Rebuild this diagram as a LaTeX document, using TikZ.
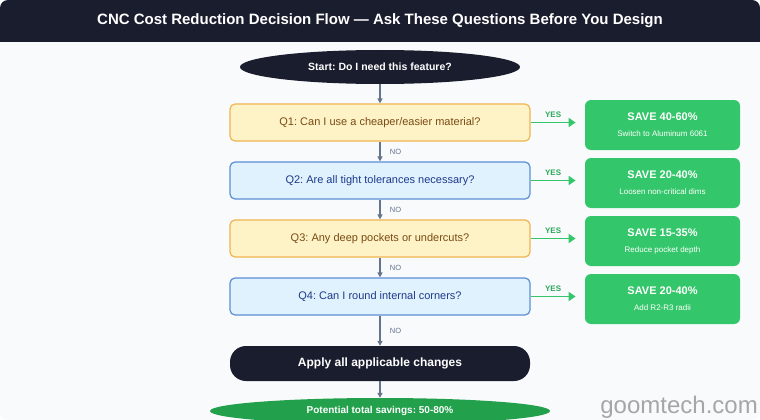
\documentclass[tikz,border=0pt]{standalone}
\usepackage{fontspec}
\setmainfont{Liberation Sans}
\usetikzlibrary{positioning, shapes.geometric, arrows.meta}
\definecolor{navy}{HTML}{1A1D2E}
\definecolor{bodybg}{HTML}{F8FAFC}
\definecolor{qyfill}{HTML}{FEF3C7}
\definecolor{qydraw}{HTML}{F0B450}
\definecolor{qytext}{HTML}{7A4A12}
\definecolor{qbfill}{HTML}{E0F2FE}
\definecolor{qbdraw}{HTML}{5B8FD6}
\definecolor{qbtext}{HTML}{1E3A8A}
\definecolor{savegreen}{HTML}{34C66A}
\definecolor{endgreen}{HTML}{22A04B}
\definecolor{flowgray}{HTML}{64748B}
\tikzset{
  qbox/.style={draw, rounded corners=5pt, line width=1.2pt, minimum width=300pt,
    minimum height=37pt, font=\fontsize{11}{13}\selectfont},
  qyel/.style={qbox, fill=qyfill, draw=qydraw, text=qytext},
  qblue/.style={qbox, fill=qbfill, draw=qbdraw, text=qbtext},
  save/.style={fill=savegreen, rounded corners=6pt, minimum width=155pt,
    minimum height=50pt, text=white, align=center},
  flow/.style={-{Triangle[length=5pt,width=5pt]}, flowgray, line width=1.2pt},
  yes/.style={-{Triangle[length=7pt,width=9pt]}, savegreen, line width=1.6pt},
  nolbl/.style={font=\fontsize{7.5}{9}\selectfont, text=flowgray},
  yeslbl/.style={font=\bfseries\fontsize{8}{9}\selectfont, text=savegreen!85!black}
}
\frenchspacing
\begin{document}
\begin{tikzpicture}[x=1pt, y=-1pt]
  \useasboundingbox (0,0) rectangle (760,420);
  % card and title bar
  \fill[bodybg, rounded corners=8pt] (0,0) rectangle (760,420);
  \fill[navy, rounded corners=8pt] (0,0) rectangle (760,42);
  \fill[navy] (0,20) rectangle (760,42);
  \node[text=white, font=\bfseries\fontsize{15}{17}\selectfont] (title) at (380,21)
    {CNC Cost Reduction Decision Flow — Ask These Questions Before You Design};
  % main column
  \node[ellipse, fill=navy, minimum width=280pt, minimum height=34pt, inner sep=0pt,
    text=white, font=\bfseries\fontsize{10.5}{12}\selectfont] (start) at (380,67)
    {Start: Do I need this feature?};
  \node[qyel] (q1) at (380,122.5) {Q1: Can I use a cheaper/easier material?};
  \node[qblue] (q2) at (380,180.5) {Q2: Are all tight tolerances necessary?};
  \node[qyel] (q3) at (380,238.5) {Q3: Any deep pockets or undercuts?};
  \node[qblue] (q4) at (380,296.5) {Q4: Can I round internal corners?};
  \node[fill=navy, rounded corners=16pt, minimum width=300pt, minimum height=35pt,
    text=white, font=\bfseries\fontsize{12}{14}\selectfont] (apply) at (380,363.5)
    {Apply all applicable changes};
  \node[ellipse, fill=endgreen, minimum width=340pt, minimum height=26pt, inner sep=0pt,
    text=white, font=\bfseries\fontsize{10}{12}\selectfont] (total) at (380,411)
    {Potential total savings: 50-80\%};
  % savings
  \node[save] (s1) at (662.5,125) {\textbf{\fontsize{11}{13}\selectfont SAVE 40-60\%}\\[4pt]{\fontsize{8}{9}\selectfont Switch to Aluminum 6061}};
  \node[save] (s2) at (662.5,183) {\textbf{\fontsize{11}{13}\selectfont SAVE 20-40\%}\\[4pt]{\fontsize{8}{9}\selectfont Loosen non-critical dims}};
  \node[save] (s3) at (662.5,241) {\textbf{\fontsize{11}{13}\selectfont SAVE 15-35\%}\\[4pt]{\fontsize{8}{9}\selectfont Reduce pocket depth}};
  \node[save] (s4) at (662.5,299) {\textbf{\fontsize{11}{13}\selectfont SAVE 20-40\%}\\[4pt]{\fontsize{8}{9}\selectfont Add R2-R3 radii}};
  % connectors
  \draw[flow] (start) -- (q1);
  \draw[flow] (q1) -- node[nolbl, right=6pt] {NO} (q2);
  \draw[flow] (q2) -- node[nolbl, right=6pt] {NO} (q3);
  \draw[flow] (q3) -- node[nolbl, right=6pt] {NO} (q4);
  \draw[flow] (q4) -- node[nolbl, right=6pt] {NO} (apply);
  \draw[flow] (apply) -- (total);
  \foreach \i in {1,...,4}{
    \draw[yes] (q\i.east) -- node[yeslbl, above=1pt] {YES} ++(45,0);
  }
  \node[text=gray!70, font=\fontsize{24}{26}\selectfont, anchor=east, inner sep=0pt] (mark) at (758,407) {goomtech.com};
\end{tikzpicture}
\end{document}
